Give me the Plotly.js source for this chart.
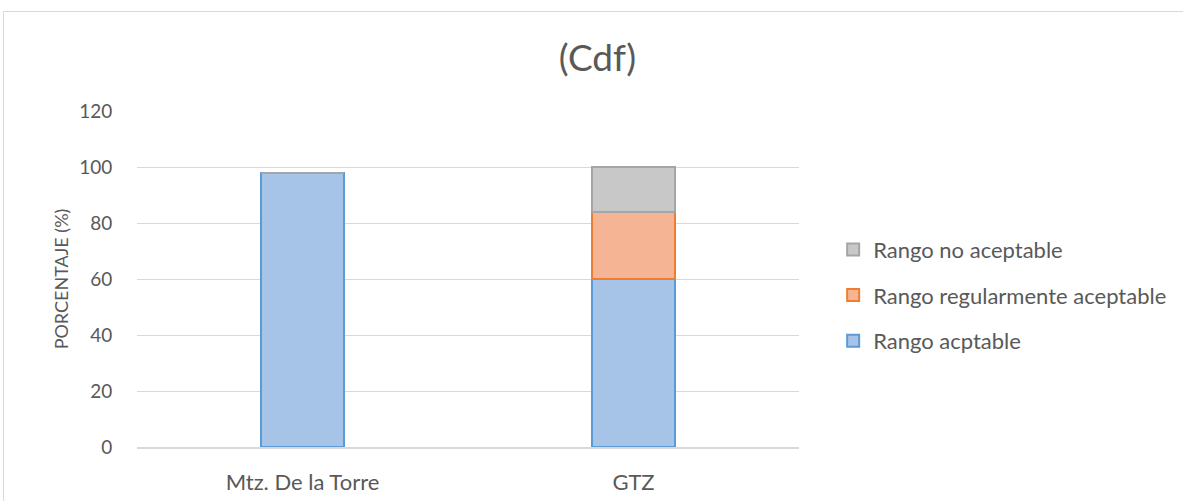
<!DOCTYPE html>
<html><head><meta charset="utf-8">
<script src="https://cdn.plot.ly/plotly-3.0.1.min.js"></script>
<style>
html,body{margin:0;padding:0;background:#fff;}
#wrap{position:relative;width:1183px;height:501px;overflow:hidden;}
#chart{position:absolute;left:0;top:0;width:1183px;height:501px;}
#frame{position:absolute;left:3px;top:11px;width:1200px;height:520px;border:1px solid #d9d9d9;border-right:none;border-bottom:none;pointer-events:none;}
</style></head>
<body>
<div id="wrap"><div id="chart"></div><div id="frame"></div></div>
<script>
var categories = ["Mtz. De la Torre", "GTZ"];
var aceptable = [98, 60];
var regular = [0, 24];
var noAceptable = [0, 16];
var seriesNames = ["Rango acptable", "Rango regularmente aceptable", "Rango no aceptable"];
var yTicks = [0, 20, 40, 60, 80, 100, 120];

var font = "Lato, 'Open Sans', sans-serif";
var traces = [
  {type:'bar', name:seriesNames[0], x:categories, y:aceptable, legendgroup:'a', legendrank:3,
   marker:{color:'#a6c4e8', line:{color:'#5b9bd5', width:2}}},
  {type:'bar', name:seriesNames[1], x:categories, y:regular, legendgroup:'b', legendrank:2,
   marker:{color:'#f5b594', line:{color:'#ed7d31', width:2}}},
  {type:'bar', name:seriesNames[2], x:categories, y:noAceptable, legendgroup:'c', legendrank:1,
   marker:{color:'#c8c8c8', line:{color:'#a5a5a5', width:2}}}
];
var layout = {
  width:1183, height:501,
  margin:{l:137, r:383, t:111, b:54},
  paper_bgcolor:'rgba(0,0,0,0)', plot_bgcolor:'#fff',
  barmode:'stack', bargap:0.747,
  showlegend:true,
  title:{text:'(Cdf)', x:0.505, xanchor:'center', y:0.885, yanchor:'middle',
         font:{family:font, size:37, color:'#595959'}},
  font:{family:font, color:'#595959'},
  xaxis:{type:'category', showgrid:false, zeroline:false, showline:true, linecolor:'#d9d9d9', linewidth:2,
         ticks:'outside', ticklen:15, tickcolor:'rgba(0,0,0,0)',
         tickfont:{family:font, size:22, color:'#595959'}},
  yaxis:{range:[0,120], tickvals:yTicks, ticktext:yTicks.map(String),
         showgrid:true, gridcolor:'#d9d9d9', gridwidth:1, zeroline:false, showline:false,
         ticks:'outside', ticklen:20, tickcolor:'rgba(0,0,0,0)',
         tickfont:{family:font, size:19, color:'#595959'},
         title:{text:'PORCENTAJE (%)', standoff:5, font:{family:font, size:18, color:'#595959'}}},
  legend:{x:1.05, xanchor:'left', y:0.452, yanchor:'middle', traceorder:'grouped',
          tracegroupgap:14, font:{family:font, size:22, color:'#595959'},
          itemwidth:30, bgcolor:'rgba(0,0,0,0)'}
};
Plotly.newPlot('chart', traces, layout, {displayModeBar:false, staticPlot:true});
</script>
</body></html>
